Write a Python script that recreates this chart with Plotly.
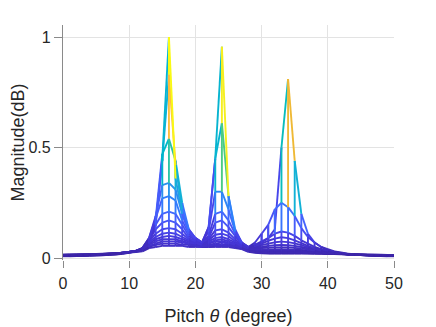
import plotly.graph_objects as go

# ---------------- data ----------------
pitch_deg = list(range(0, 51))          # mesh grid along pitch (degree)

# one mesh row per list (row 00 = sharpest / highest), 51 values each (x = 0..50)
mag_row_00 = [0.008,0.008,0.009,0.009,0.010,0.011,0.012,0.014,0.016,0.019,0.024,
              0.030,0.040,0.070,0.150,0.450,1.000,0.360,0.200,0.120,0.090,0.070,
              0.140,0.450,0.956,0.280,0.120,0.070,
              0.050,0.055,0.070,0.090,0.130,0.500,0.810,0.440,0.200,0.110,0.070,0.050,0.035,0.028,0.022,
              0.018,0.015,0.013,0.011,0.010,0.009,0.008,0.008]
mag_row_01 = [0.009,0.009,0.010,0.010,0.011,0.012,0.013,0.015,0.017,0.020,0.025,
              0.030,0.040,0.070,0.160,0.440,0.830,0.420,0.220,0.130,0.090,0.070,
              0.140,0.450,0.610,0.280,0.130,0.070,
              0.050,0.070,0.110,0.150,0.220,0.250,0.230,0.190,0.135,0.095,0.070,0.050,0.040,0.030,0.025,
              0.020,0.017,0.014,0.012,0.011,0.010,0.009,0.009]
mag_row_02 = [0.010,0.010,0.011,0.011,0.012,0.013,0.014,0.016,0.018,0.021,0.026,
              0.030,0.042,0.080,0.180,0.470,0.540,0.440,0.250,0.130,0.090,0.070,
              0.120,0.300,0.300,0.220,0.120,0.070,
              0.050,0.060,0.075,0.090,0.110,0.120,0.115,0.100,0.080,0.065,0.050,0.040,0.033,0.027,0.022,
              0.018,0.015,0.013,0.012,0.011,0.010,0.009,0.009]
mag_row_03 = [0.010,0.011,0.011,0.012,0.013,0.014,0.015,0.017,0.019,0.022,0.027,
              0.032,0.045,0.090,0.190,0.330,0.340,0.310,0.200,0.120,0.090,0.070,
              0.100,0.200,0.210,0.170,0.110,0.065,
              0.048,0.055,0.065,0.078,0.088,0.094,0.090,0.080,0.067,0.055,0.045,0.037,0.030,0.025,0.021,
              0.017,0.015,0.013,0.012,0.011,0.010,0.010,0.009]
mag_row_04 = [0.011,0.011,0.012,0.012,0.013,0.014,0.016,0.017,0.020,0.023,0.027,
              0.032,0.045,0.090,0.180,0.270,0.280,0.260,0.170,0.110,0.085,0.070,
              0.090,0.160,0.170,0.140,0.100,0.060,
              0.046,0.050,0.058,0.065,0.071,0.074,0.072,0.066,0.058,0.049,0.041,0.034,0.028,0.024,0.020,
              0.017,0.015,0.013,0.012,0.011,0.011,0.010,0.010]
mag_row_05 = [0.011,0.012,0.012,0.013,0.014,0.015,0.016,0.018,0.020,0.023,0.028,
              0.032,0.045,0.085,0.150,0.200,0.210,0.200,0.150,0.100,0.080,0.065,
              0.085,0.125,0.130,0.115,0.085,0.058,
              0.044,0.047,0.051,0.055,0.058,0.059,0.058,0.055,0.050,0.044,0.038,0.032,0.027,0.023,0.020,
              0.017,0.015,0.014,0.013,0.012,0.011,0.011,0.010]
mag_row_06 = [0.012,0.012,0.013,0.013,0.014,0.015,0.017,0.018,0.021,0.024,0.028,
              0.032,0.042,0.080,0.130,0.160,0.170,0.160,0.130,0.090,0.075,0.065,
              0.080,0.105,0.110,0.100,0.075,0.055,
              0.042,0.043,0.045,0.047,0.048,0.048,0.048,0.046,0.043,0.039,0.034,0.030,0.026,0.022,0.019,
              0.017,0.015,0.014,0.013,0.012,0.012,0.011,0.011]
mag_row_07 = [0.012,0.013,0.013,0.014,0.015,0.016,0.017,0.019,0.021,0.024,0.028,
              0.032,0.040,0.075,0.110,0.130,0.135,0.130,0.110,0.085,0.070,0.060,
              0.075,0.090,0.095,0.085,0.070,0.052,
              0.040,0.039,0.039,0.039,0.039,0.039,0.039,0.038,0.036,0.033,0.030,0.027,0.024,0.021,0.019,
              0.017,0.015,0.014,0.013,0.013,0.012,0.012,0.011]
mag_row_08 = [0.013,0.013,0.014,0.014,0.015,0.016,0.017,0.019,0.021,0.024,0.028,
              0.031,0.040,0.070,0.095,0.110,0.115,0.110,0.095,0.080,0.070,0.060,
              0.070,0.080,0.085,0.075,0.065,0.050,
              0.038,0.036,0.035,0.035,0.035,0.035,0.035,0.034,0.033,0.031,0.028,0.026,0.023,0.021,0.019,
              0.017,0.016,0.015,0.014,0.013,0.013,0.012,0.012]
mag_row_09 = [0.013,0.014,0.014,0.015,0.015,0.016,0.018,0.019,0.021,0.024,0.028,
              0.031,0.040,0.065,0.085,0.095,0.100,0.095,0.085,0.075,0.065,0.060,
              0.065,0.075,0.075,0.070,0.060,0.048,
              0.036,0.033,0.031,0.030,0.030,0.030,0.030,0.030,0.029,0.028,0.026,0.024,0.022,0.020,0.018,
              0.017,0.016,0.015,0.014,0.013,0.013,0.012,0.012]
mag_row_10 = [0.014,0.014,0.015,0.015,0.016,0.017,0.018,0.019,0.021,0.024,0.027,
              0.030,0.040,0.060,0.075,0.085,0.085,0.085,0.075,0.070,0.065,0.055,
              0.060,0.065,0.070,0.065,0.055,0.046,
              0.034,0.030,0.028,0.027,0.027,0.027,0.027,0.027,0.026,0.025,0.024,0.022,0.021,0.019,0.018,
              0.017,0.016,0.015,0.014,0.014,0.013,0.013,0.012]
mag_row_11 = [0.014,0.015,0.015,0.016,0.016,0.017,0.018,0.020,0.021,0.024,0.027,
              0.030,0.035,0.055,0.065,0.075,0.075,0.075,0.070,0.065,0.060,0.055,
              0.055,0.060,0.060,0.060,0.050,0.044,
              0.032,0.028,0.025,0.024,0.024,0.024,0.024,0.024,0.024,0.023,0.022,0.021,0.020,0.019,0.018,
              0.017,0.016,0.015,0.015,0.014,0.014,0.013,0.013]
mag_row_12 = [0.015,0.015,0.016,0.016,0.017,0.017,0.018,0.020,0.021,0.023,0.026,
              0.028,0.035,0.050,0.060,0.065,0.065,0.065,0.060,0.060,0.055,0.050,
              0.050,0.055,0.055,0.055,0.050,0.042,
              0.030,0.026,0.023,0.022,0.022,0.022,0.022,0.022,0.022,0.021,0.021,0.020,0.019,0.018,0.018,
              0.017,0.016,0.016,0.015,0.015,0.014,0.014,0.013]
mag_row_13 = [0.015,0.016,0.016,0.017,0.017,0.018,0.019,0.020,0.021,0.023,0.025,
              0.027,0.030,0.045,0.050,0.055,0.055,0.055,0.055,0.050,0.050,0.050,
              0.050,0.050,0.050,0.050,0.045,0.040,
              0.028,0.024,0.021,0.020,0.020,0.020,0.020,0.020,0.020,0.020,0.019,0.019,0.018,0.018,0.017,
              0.017,0.016,0.016,0.015,0.015,0.015,0.014,0.014]

x_ticks = [0, 10, 20, 30, 40, 50]
y_ticks = [0, 0.5, 1]
y_tick_labels = ["0", "0.5", "1"]

# ---------------- style ----------------
PARULA_64 = [
 (0.2422,0.1504,0.6603),(0.2504,0.1650,0.7076),(0.2578,0.1818,0.7511),(0.2647,0.1978,0.7952),
 (0.2706,0.2147,0.8364),(0.2751,0.2342,0.8710),(0.2783,0.2559,0.8991),(0.2803,0.2782,0.9221),
 (0.2813,0.3006,0.9414),(0.2810,0.3228,0.9579),(0.2795,0.3447,0.9717),(0.2760,0.3667,0.9829),
 (0.2699,0.3892,0.9906),(0.2602,0.4123,0.9952),(0.2440,0.4358,0.9988),(0.2206,0.4603,0.9973),
 (0.1963,0.4847,0.9892),(0.1834,0.5074,0.9798),(0.1786,0.5289,0.9682),(0.1764,0.5499,0.9520),
 (0.1687,0.5703,0.9359),(0.1540,0.5902,0.9218),(0.1460,0.6098,0.9079),(0.1380,0.6276,0.8973),
 (0.1248,0.6459,0.8883),(0.1113,0.6635,0.8763),(0.0952,0.6798,0.8598),(0.0689,0.6948,0.8394),
 (0.0297,0.7082,0.8163),(0.0036,0.7203,0.7917),(0.0067,0.7312,0.7660),(0.0433,0.7411,0.7394),
 (0.0964,0.7500,0.7120),(0.1408,0.7584,0.6842),(0.1717,0.7670,0.6554),(0.1938,0.7758,0.6251),
 (0.2161,0.7843,0.5923),(0.2470,0.7918,0.5567),(0.2906,0.7973,0.5188),(0.3406,0.8008,0.4789),
 (0.3909,0.8029,0.4354),(0.4456,0.8024,0.3909),(0.5044,0.7993,0.3480),(0.5616,0.7942,0.3045),
 (0.6174,0.7876,0.2612),(0.6720,0.7793,0.2227),(0.7242,0.7698,0.1910),(0.7738,0.7598,0.1646),
 (0.8203,0.7498,0.1535),(0.8634,0.7406,0.1596),(0.9035,0.7330,0.1774),(0.9393,0.7288,0.2100),
 (0.9728,0.7298,0.2394),(0.9956,0.7434,0.2371),(0.9970,0.7659,0.2199),(0.9952,0.7893,0.2028),
 (0.9892,0.8136,0.1885),(0.9786,0.8386,0.1766),(0.9676,0.8639,0.1643),(0.9610,0.8890,0.1537),
 (0.9597,0.9135,0.1423),(0.9628,0.9373,0.1265),(0.9691,0.9606,0.1064),(0.9769,0.9839,0.0805)]

rows = [mag_row_00, mag_row_01, mag_row_02, mag_row_03, mag_row_04, mag_row_05, mag_row_06,
        mag_row_07, mag_row_08, mag_row_09, mag_row_10, mag_row_11, mag_row_12, mag_row_13]

zmin = min(min(r) for r in rows)
zmax = max(max(r) for r in rows)


def cidx(v):
    i = int((v - zmin) / (zmax - zmin) * 64)
    return max(0, min(63, i))


segs = {}


def add_seg(ci, x0, y0, x1, y1):
    xs, ys = segs.setdefault(ci, ([], []))
    xs.extend([x0, x1, None])
    ys.extend([y0, y1, None])


# mesh edges along pitch (flat colour = first vertex)
for row in rows:
    for j in range(len(pitch_deg) - 1):
        add_seg(cidx(row[j]), pitch_deg[j], row[j], pitch_deg[j + 1], row[j + 1])
# mesh edges across rows (seen edge-on as vertical lines)
for k in range(len(rows) - 1):
    for j in range(len(pitch_deg)):
        add_seg(cidx(rows[k][j]), pitch_deg[j], rows[k][j], pitch_deg[j], rows[k + 1][j])

fig = go.Figure()
for ci in sorted(segs):
    r, g, b = PARULA_64[ci]
    xs, ys = segs[ci]
    fig.add_trace(go.Scatter(
        x=xs, y=ys, mode="lines",
        line=dict(color=f"rgb({int(r*255)},{int(g*255)},{int(b*255)})", width=1.9),
        hoverinfo="skip", showlegend=False))

font_family = "Liberation Sans, Arial, Helvetica, sans-serif"
# the page adds an 8px body margin, so the figure is placed 8px right/down
fig.update_layout(
    width=436, height=327,
    margin=dict(l=55, r=50, t=17, b=75),
    paper_bgcolor="white", plot_bgcolor="white",
    font=dict(family=font_family, size=16, color="#262626"),
    xaxis=dict(
        range=[0, 50], tickvals=x_ticks, ticktext=[str(v) for v in x_ticks],
        showgrid=True, gridcolor="#e3e3e3", gridwidth=1,
        showline=False, zeroline=False, automargin=False,
        ticks="outside", ticklen=7, tickcolor="#8a8a8a", tickwidth=1,
        ticklabelstandoff=2,
        tickfont=dict(size=16, color="#262626"),
        title=dict(text="Pitch <i>θ</i> (degree)", font=dict(size=18, color="#262626"), standoff=18),
    ),
    yaxis=dict(
        range=[-0.009, 1.0543], tickvals=y_ticks, ticktext=y_tick_labels,
        showgrid=True, gridcolor="#e3e3e3", gridwidth=1,
        showline=True, linecolor="#8a8a8a", linewidth=1.3, zeroline=False, automargin=False,
        ticks="outside", ticklen=8, tickcolor="#8a8a8a", tickwidth=1,
        tickfont=dict(size=16, color="#262626"),
        title=dict(text="Magnitude(dB)", font=dict(size=18, color="#262626"), standoff=8),
    ),
)

fig.write_html("out.html")
